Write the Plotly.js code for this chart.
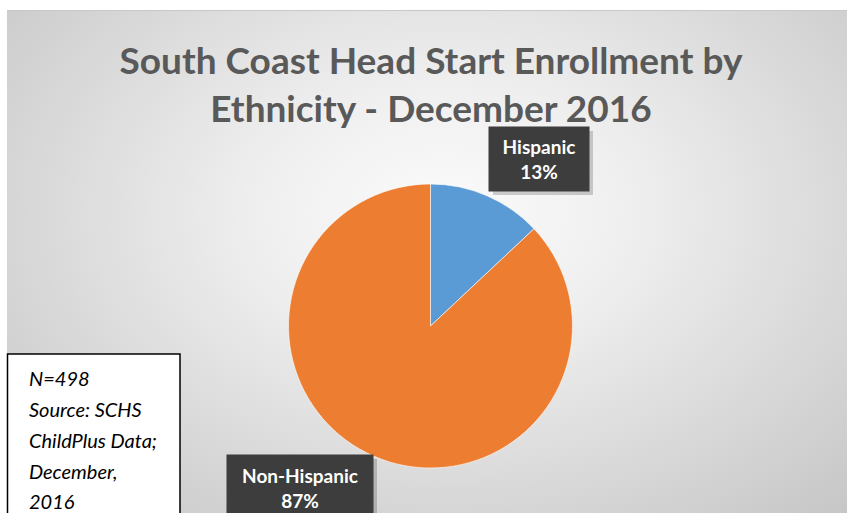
<!DOCTYPE html>
<html>
<head>
<meta charset="utf-8">
<script src="https://cdn.plot.ly/plotly-3.0.1.min.js"></script>
<style>
  html, body { margin: 0; padding: 0; background: #ffffff; }
  #wrap { position: relative; width: 847px; height: 513px; overflow: hidden; }
  #bg { position: absolute; left: 7px; top: 10px; right: 0; bottom: 0;
        background: radial-gradient(ellipse farthest-corner at 52% 40%, #fbfbfb 0%, #efefef 30%, #d6d6d6 70%, #c4c4c4 100%);
        border-top: 1px solid #c8c8c8; }
  #chart { position: absolute; left: 0; top: 0; width: 847px; height: 513px; }
</style>
</head>
<body>
<div id="wrap"><div id="bg"></div><div id="chart"></div></div>
<script>
// ---- data ----
const categories = ['Hispanic', 'Non-Hispanic'];
const values = [13, 87];
const sliceColors = ['#5B9BD5', '#ED7D31'];
const chartTitle = 'South Coast Head Start Enrollment by<br>Ethnicity - December 2016';
const noteLines = ['N=498', 'Source: SCHS', 'ChildPlus Data;', 'December,', '2016'];

// ---- layout helpers ----
const W = 847, H = 513;
const px = x => x / W;
const py = y => 1 - y / H;

const total = values.reduce((a, b) => a + b, 0);
const pct = values.map(v => Math.round(v / total * 100) + '%');

const trace = {
  type: 'pie',
  labels: categories,
  values: values,
  sort: false,
  direction: 'clockwise',
  rotation: 0,
  textinfo: 'none',
  hoverinfo: 'label+percent',
  marker: { colors: sliceColors, line: { color: 'rgba(255,255,255,0.6)', width: 1 } },
  domain: { x: [px(430.5 - 142), px(430.5 + 142)], y: [py(326 + 142), py(326 - 142)] },
  showlegend: false
};

// label box positions (centre x, centre y, width, height)
const labelBoxes = [
  { cx: 539, cy: 159, w: 100, h: 64 },
  { cx: 300, cy: 488, w: 146, h: 66 }
];

const annotations = [];
const shapes = [];

categories.forEach((c, i) => {
  const b = labelBoxes[i];
  shapes.push({
    type: 'rect', xref: 'paper', yref: 'paper', layer: 'above',
    x0: px(b.cx - b.w / 2 + 4), x1: px(b.cx + b.w / 2 + 4),
    y0: py(b.cy + b.h / 2 + 4), y1: py(b.cy - b.h / 2 + 4),
    fillcolor: 'rgba(0,0,0,0.18)', line: { width: 0 }
  });
  annotations.push({
    xref: 'paper', yref: 'paper', x: px(b.cx), y: py(b.cy),
    xanchor: 'center', yanchor: 'middle', showarrow: false,
    text: '<b>' + c + '</b><br><b>' + pct[i] + '</b>',
    width: b.w, height: b.h, bgcolor: '#3d3d3d', borderpad: 0,
    font: { family: 'Lato, "Open Sans", sans-serif', size: 19, color: '#ffffff' },
    align: 'center', valign: 'middle'
  });
});

// note box
shapes.push({
  type: 'rect', xref: 'paper', yref: 'paper', layer: 'above',
  x0: px(7.5), x1: px(180), y0: py(530), y1: py(354),
  fillcolor: '#ffffff', line: { color: '#000000', width: 1.5 }
});
const noteY = [378, 409, 440, 471, 501];
noteLines.forEach((t, i) => {
  annotations.push({
    xref: 'paper', yref: 'paper', x: px(27), y: py(noteY[i]),
    xanchor: 'left', yanchor: 'middle', showarrow: false,
    text: '<i>' + t + '</i>',
    font: { family: 'Lato, "Open Sans", sans-serif', size: 20, color: '#000000' }
  });
});

const layout = {
  width: W, height: H,
  margin: { l: 0, r: 0, t: 0, b: 0 },
  paper_bgcolor: 'rgba(0,0,0,0)',
  plot_bgcolor: 'rgba(0,0,0,0)',
  title: {
    text: chartTitle,
    font: { family: 'Lato, "Open Sans", sans-serif', size: 37, color: '#595959', weight: 'bold' },
    x: px(431), xanchor: 'center',
    y: py(74), yanchor: 'middle', yref: 'container'
  },
  shapes: shapes,
  annotations: annotations
};

Plotly.newPlot('chart', [trace], layout, { displayModeBar: false, staticPlot: true });
</script>
</body>
</html>
